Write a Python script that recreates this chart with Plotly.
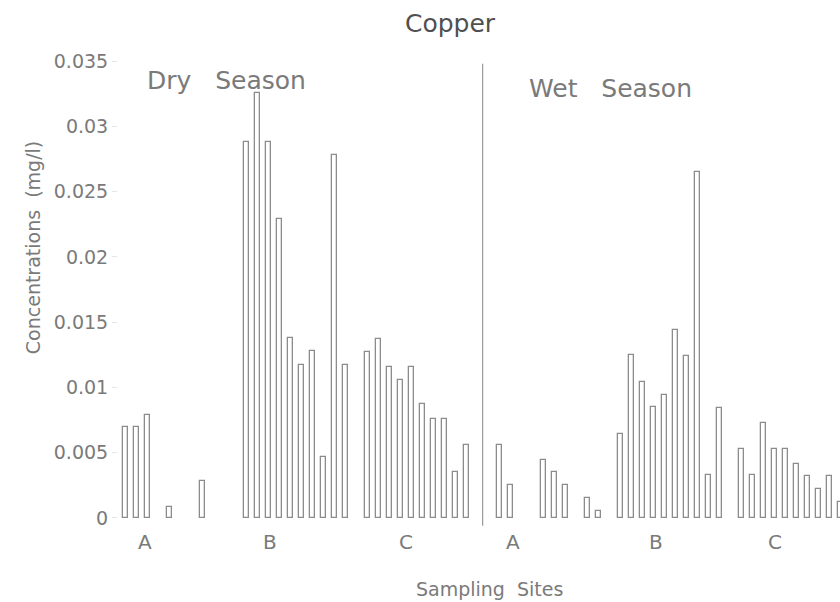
import plotly.graph_objects as go

# ---- data (mg/l), 10 sampling slots per site; None = no bar ----
sites = ["A", "B", "C"]
seasons = ["Dry", "Wet"]
dry_A = [0.0070, 0.0070, 0.0079, None, 0.0008, None, None, 0.0028, None, None]
dry_B = [0.0288, 0.0326, 0.0288, 0.0229, 0.0138, 0.0117, 0.0128, 0.0047, 0.0278, 0.0117]
dry_C = [0.0127, 0.0137, 0.0116, 0.0106, 0.0116, 0.0087, 0.0076, 0.0076, 0.0035, 0.0056]
wet_A = [0.0056, 0.0025, None, None, 0.0044, 0.0035, 0.0025, None, 0.0015, 0.0005]
wet_B = [0.0064, 0.0125, 0.0104, 0.0085, 0.0094, 0.0144, 0.0124, 0.0265, 0.0033, 0.0084]
wet_C = [0.0053, 0.0033, 0.0073, 0.0053, 0.0053, 0.0041, 0.0032, 0.0022, 0.0032, 0.0012]
y_ticks = [0, 0.005, 0.01, 0.015, 0.02, 0.025, 0.03, 0.035]
y_tick_text = ["0", "0.005", "0.01", "0.015", "0.02", "0.025", "0.03", "0.035"]
site_label_offset = [-2.75, -2.4, -1.0]   # label offset from group centre (slots)
wet_label_offset = [-3.3, -1.3, -1.5]

groups = {"Dry": [dry_A, dry_B, dry_C], "Wet": [wet_A, wet_B, wet_C]}

SLOTS = 10
GROUP_GAP = 1
SEASON_GAP = 2
season_span = 3 * SLOTS + 2 * GROUP_GAP + SEASON_GAP  # 34

xs, ys = [], []
label_x, label_t = [], []
for si, season in enumerate(seasons):
    for gi, vals in enumerate(groups[season]):
        start = si * season_span + gi * (SLOTS + GROUP_GAP)
        for k, v in enumerate(vals):
            if v is not None:
                xs.append(start + k)
                ys.append(v)
        off = (site_label_offset if season == "Dry" else wet_label_offset)[gi]
        label_x.append(start + (SLOTS - 1) / 2 + off)
        label_t.append(sites[gi])

divider_x = season_span - SEASON_GAP / 2 - 0.5 - 0.05

GRAY = "#7a7a7a"
FONT = "DejaVu Sans"

fig = go.Figure()
fig.add_trace(go.Bar(
    x=xs, y=ys, width=0.5,
    marker=dict(color="white", line=dict(color="#8c8c8c", width=1.3)),
    showlegend=False, hoverinfo="x+y",
))

fig.add_shape(type="line", xref="x", yref="y",
              x0=divider_x, x1=divider_x, y0=-0.0006, y1=0.0348,
              line=dict(color="#9a9a9a", width=1.2))

annotations = []
for lx, lt in zip(label_x, label_t):
    annotations.append(dict(x=lx, y=-0.031, xref="x", yref="paper", text=lt,
                            showarrow=False, xanchor="center", yanchor="middle",
                            font=dict(family=FONT, size=20, color=GRAY)))

annotations += [
    dict(x=0.0374, y=0.947, xref="paper", yref="paper",
         text="Dry\u00a0\u00a0\u00a0Season", showarrow=False,
         xanchor="left", yanchor="middle",
         font=dict(family=FONT, size=25, color=GRAY)),
    dict(x=0.566, y=0.932, xref="paper", yref="paper",
         text="Wet\u00a0\u00a0\u00a0Season", showarrow=False,
         xanchor="left", yanchor="middle",
         font=dict(family=FONT, size=25, color=GRAY)),
    dict(x=0.515, y=-0.132, xref="paper", yref="paper",
         text="Sampling\u00a0\u00a0Sites", showarrow=False,
         xanchor="center", yanchor="middle",
         font=dict(family=FONT, size=19, color=GRAY)),
    dict(x=-0.1177, y=0.592, xref="paper", yref="paper",
         text="Concentrations\u00a0\u00a0(mg/l)", showarrow=False, textangle=-90,
         xanchor="center", yanchor="middle",
         font=dict(family=FONT, size=19, color=GRAY)),
]

fig.update_layout(
    width=840, height=602,
    margin=dict(l=118, r=0, t=56, b=75),
    paper_bgcolor="white", plot_bgcolor="white",
    title=dict(text="Copper", x=450 / 840, y=1 - 23 / 602,
               xanchor="center", yanchor="middle",
               font=dict(family=FONT, size=25, color="#505050")),
    xaxis=dict(range=[-0.7, 64.94], showgrid=False, zeroline=False,
               showticklabels=False, showline=False, ticks=""),
    yaxis=dict(range=[-0.0007, 0.0354], tickvals=y_ticks, ticktext=y_tick_text,
               showgrid=False, zeroline=False, showline=False,
               ticks="outside", ticklen=5, tickcolor="#e4e4e4",
               tickfont=dict(family=FONT, size=19, color=GRAY)),
    annotations=annotations,
    bargap=0,
)

fig.write_html("out.html")
